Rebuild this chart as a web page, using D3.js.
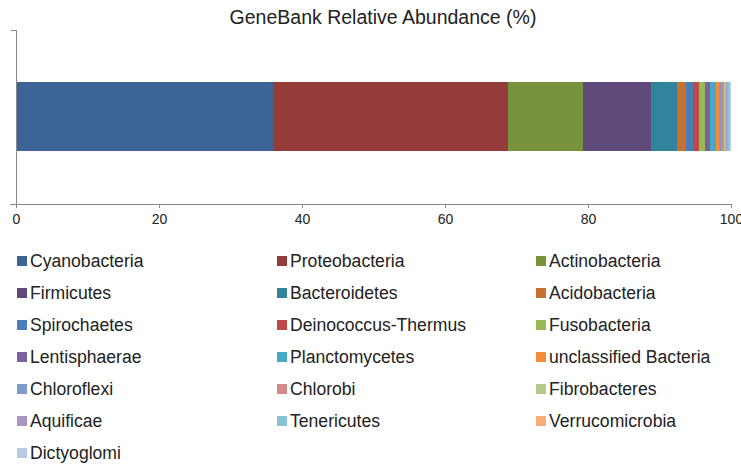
<!DOCTYPE html>
<html><head><meta charset="utf-8">
<script src="https://cdn.jsdelivr.net/npm/d3@7"></script>
<style>body{margin:0;background:#fff;} svg{display:block;}</style>
</head><body>
<svg id="chart" width="741" height="466"></svg>
<script>
const categories = ["Cyanobacteria","Proteobacteria","Actinobacteria","Firmicutes","Bacteroidetes","Acidobacteria","Spirochaetes","Deinococcus-Thermus","Fusobacteria","Lentisphaerae","Planctomycetes","unclassified Bacteria","Chloroflexi","Chlorobi","Fibrobacteres","Aquificae","Tenericutes","Verrucomicrobia","Dictyoglomi"];
const values = [36.0,32.8,10.5,9.5,3.65,1.2,1.0,0.88,0.84,0.66,0.88,0.38,0.46,0.32,0.24,0.18,0.2,0.18,0.12];
const colors = ["#3C6497","#953B3A","#77933C","#604A7B","#31849B","#C8702F","#4A7EBB","#BE4B48","#98B954","#7D60A0","#46AAC5","#F38B3A","#7E9BCB","#D38A88","#B2CB8C","#A796C0","#86C3D5","#F8AE7A","#B9CBE4"];
const xTicks = [0,20,40,60,80,100];
const title = "GeneBank Relative Abundance (%)";

const svg = d3.select("#chart");
const font = "'Liberation Sans', Arial, sans-serif";
const x = d3.scaleLinear().domain([0,100]).range([16,731]);

svg.append("text").attr("x",383).attr("y",24).attr("text-anchor","middle")
  .attr("font-family",font).attr("font-size",19.5).attr("fill","#222").text(title);

// stacked bar
let cum = 0;
const segs = values.map((v,i)=>{const s={name:categories[i],x0:cum,x1:cum+v,c:colors[i]};cum+=v;return s;});
svg.append("g").attr("shape-rendering","crispEdges").selectAll("rect").data(segs).join("rect")
  .attr("x",d=>x(d.x0)).attr("width",d=>x(d.x1)-x(d.x0))
  .attr("y",82).attr("height",69)
  .attr("fill",d=>d.c);

// axes
const xAxis = d3.axisBottom(x).tickValues(xTicks).tickSize(4).tickPadding(6);
const gx = svg.append("g").attr("transform","translate(0,204)").call(xAxis);
gx.select(".domain").attr("stroke","#888").attr("d","M10,0.5H731");
gx.selectAll(".tick line").attr("stroke","#888");
gx.selectAll(".tick text").attr("font-family",font).attr("font-size",14).attr("fill","#222");

const gy = svg.append("g");
gy.append("line").attr("x1",16.5).attr("x2",16.5).attr("y1",30).attr("y2",208).attr("stroke","#888");
gy.append("line").attr("x1",11).attr("x2",16.5).attr("y1",30.5).attr("y2",30.5).attr("stroke","#888");

// legend
const colX = [17,277,536];
const leg = svg.append("g").selectAll("g").data(categories).join("g")
  .attr("transform",(d,i)=>`translate(${colX[i%3]},${261+Math.floor(i/3)*32})`);
leg.append("rect").attr("x",0).attr("y",-5).attr("width",10).attr("height",10).attr("fill",(d,i)=>colors[i]);
leg.append("text").attr("x",13).attr("y",6).attr("font-family",font).attr("font-size",17.6).attr("fill","#222").text(d=>d);
</script>
</body></html>
